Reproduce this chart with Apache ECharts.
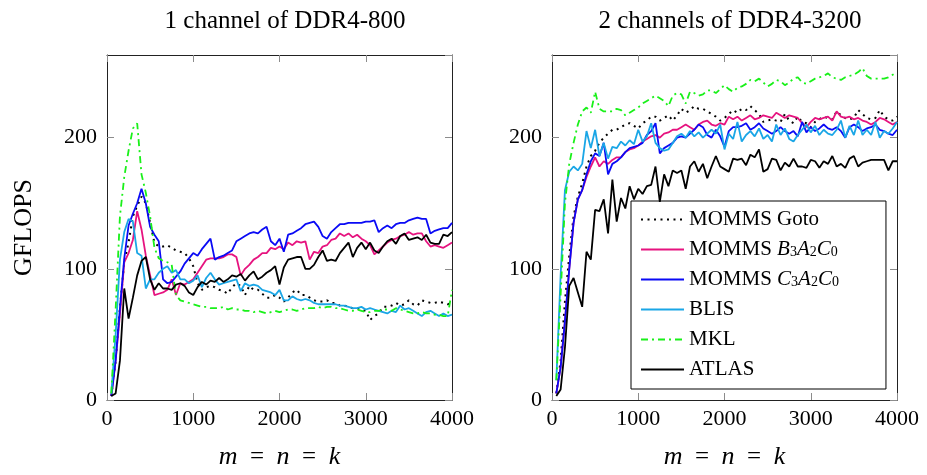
<!DOCTYPE html>
<html>
<head>
<meta charset="utf-8">
<script src="https://cdn.jsdelivr.net/npm/echarts@6/dist/echarts.min.js"></script>
<style>
  html, body { margin: 0; padding: 0; background: #fff; }
  #chart { width: 927px; height: 475px; }
</style>
</head>
<body>
<div id="chart"></div>
<script>
// problem sizes m = n = k
var sizes = [50,100,150,200,250,300,350,400,450,500,
  550,600,650,700,750,800,850,900,950,1000,
  1050,1100,1150,1200,1250,1300,1350,1400,1450,1500,
  1550,1600,1650,1700,1750,1800,1850,1900,1950,2000,
  2050,2100,2150,2200,2250,2300,2350,2400,2450,2500,
  2550,2600,2650,2700,2750,2800,2850,2900,2950,3000,
  3050,3100,3150,3200,3250,3300,3350,3400,3450,3500,
  3550,3600,3650,3700,3750,3800,3850,3900,3950,4000];

var panelTitles = ['1 channel of DDR4-800', '2 channels of DDR4-3200'];
var seriesNames = ['MOMMS Goto', 'MOMMS B3A2C0', 'MOMMS C3A2C0', 'BLIS', 'MKL', 'ATLAS'];
var yTicks = [0, 100, 200];
var xTicks = [0, 1000, 2000, 3000, 4000];

// ---- 1 channel of DDR4-800 ----
var ddr800Goto = [3,30,70,105,120,140,148,155,150,135,
  120,117,117,118,116,114,113,112,108,102,
  89,84,86,87,86,84,83,81,86,89,
  87,80,87,84,84,81,78,78,80,78,
  75,78,82,84,80,80,78,76,75,75,
  76,74,74,72,72,71,70,70,69,68,
  61,64,66,71,71,72,74,72,73,76,
  73,72,76,75,74,74,75,74,73,74];
var ddr800B3 = [3,30,65,105,112,122,144,130,110,95,
  80,81,82,84,92,80,89,88,90,92,
  97,102,107,108,108,108,109,111,111,109,
  95,100,103,107,109,112,112,116,115,117,
  115,120,118,121,120,121,107,113,112,117,
  118,122,123,127,125,127,124,126,123,121,
  118,111,114,117,120,122,123,125,126,128,
  126,127,127,121,117,118,117,116,118,120];
var ddr800C3 = [3,30,70,108,133,142,150,161,150,132,
  126,121,92,89,90,94,98,104,108,112,
  110,115,119,123,107,109,110,112,114,121,
  123,125,127,128,127,130,132,121,118,123,
  113,126,127,129,131,134,135,136,132,125,
  123,128,131,134,134,135,135,135,135,136,
  136,137,128,131,133,131,134,135,135,137,
  138,139,138,138,127,129,130,131,131,135];
var ddr800Blis = [5,50,107,128,138,136,112,110,85,92,
  92,97,100,102,97,99,92,92,89,91,
  95,86,93,97,92,88,89,90,91,92,
  83,89,87,88,87,84,83,82,80,84,
  76,76,79,77,76,77,76,74,73,73,
  73,73,73,72,72,71,70,70,71,69,
  70,69,68,67,66,68,67,72,69,70,
  68,66,64,67,68,66,64,66,64,65];
var ddr800Mkl = [5,69,140,170,190,207,211,172,158,140,
  116,108,106,105,103,80,76,75,74,73,
  72,71,71,70,70,70,71,69,70,69,
  69,68,68,67,68,67,66,67,68,67,
  68,69,69,68,69,70,70,70,71,70,
  71,71,70,70,69,68,68,69,68,67,
  67,68,68,69,69,68,70,69,68,67,
  66,66,67,66,66,65,65,64,64,84];
var ddr800Atlas = [3,5,30,85,62,78,95,106,109,92,
  84,89,85,85,84,88,89,87,82,80,
  86,90,88,91,90,93,90,92,95,94,
  96,91,95,98,92,94,97,99,102,88,
  101,107,108,109,109,100,100,103,109,114,
  106,107,106,112,116,120,109,116,120,115,
  120,114,112,117,121,123,119,125,127,122,
  123,124,122,126,120,119,119,126,125,128];

// ---- 2 channels of DDR4-3200 ----
var ddr3200Goto = [5,30,75,110,140,155,165,178,186,190,
  196,200,203,206,206,208,210,211,209,207,
  211,213,216,216,213,215,217,213,217,222,
  219,221,224,222,222,220,218,216,213,215,
  218,221,219,222,221,224,221,218,212,213,
  214,213,212,218,213,211,216,212,211,208,
  212,214,216,215,214,220,217,215,214,215,
  221,218,215,214,215,221,216,214,213,216];
var ddr3200B3 = [5,25,60,100,135,153,160,170,178,185,
  178,182,180,183,185,185,189,191,192,194,
  197,199,201,202,200,203,204,206,206,208,
  210,208,206,210,212,213,210,209,211,210,
  216,214,216,213,215,217,214,215,217,216,
  215,219,217,215,217,216,215,211,208,212,
  215,214,215,216,213,220,216,215,216,214,
  215,213,212,210,212,215,214,212,210,212];
var ddr3200C3 = [5,25,60,100,135,153,160,172,182,188,
  186,196,172,180,182,185,189,192,193,194,
  196,202,205,211,188,192,194,196,200,201,
  200,203,206,210,208,202,200,206,201,193,
  205,208,208,209,211,206,208,211,207,205,
  203,205,208,205,203,205,201,212,204,208,
  205,207,210,207,206,208,205,200,208,210,
  208,205,207,208,210,206,205,203,202,206];
var ddr3200Blis = [15,95,160,174,178,175,180,205,192,206,
  186,196,184,193,192,197,194,198,195,206,
  197,201,211,196,192,190,191,196,201,203,
  200,205,201,204,200,203,206,203,210,191,
  203,199,212,197,202,205,201,207,199,202,
  197,210,202,207,199,197,202,206,210,204,
  209,202,206,203,202,206,213,200,209,202,
  213,202,206,202,212,200,205,203,207,212];
var ddr3200Mkl = [15,80,150,180,196,210,220,223,219,235,
  222,220,220,220,222,221,217,219,221,223,
  226,228,230,232,230,228,224,232,234,233,
  226,235,234,232,233,236,236,234,237,240,
  237,235,238,239,241,244,243,245,242,239,
  241,244,243,240,242,245,246,242,241,243,
  245,246,247,249,246,245,244,246,247,248,
  250,253,247,245,245,245,245,246,248,250];
var ddr3200Atlas = [3,8,40,87,93,82,71,113,107,145,
  144,153,127,168,136,154,146,163,153,161,
  157,163,164,178,151,172,163,175,173,175,
  161,178,182,174,180,169,178,186,178,176,
  174,184,183,184,179,187,185,191,174,176,
  184,183,175,181,178,184,178,178,177,183,
  182,177,182,180,186,178,180,177,184,186,
  178,181,182,183,183,183,183,175,182,182];

var FONT = "'Liberation Serif', 'DejaVu Serif', serif";
var TICK_GRAY = '#8c8c8c';

var styles = [
  {color: '#000000', width: 2, type: [2, 4.5]},
  {color: '#e6137f', width: 1.8, type: 'solid'},
  {color: '#0a0af5', width: 1.8, type: 'solid'},
  {color: '#1aa6e6', width: 1.8, type: 'solid'},
  {color: '#19f019', width: 1.8, type: [7, 4, 2, 4]},
  {color: '#000000', width: 1.8, type: 'solid'}
];

var panels = [
  [ddr800Goto, ddr800B3, ddr800C3, ddr800Blis, ddr800Mkl, ddr800Atlas],
  [ddr3200Goto, ddr3200B3, ddr3200C3, ddr3200Blis, ddr3200Mkl, ddr3200Atlas]
];

var gridLefts = [107, 552];
var grids = [], xAxes = [], yAxes = [], series = [], titles = [];

function xAxisFor(gi, pos) {
  var main = pos === 'bottom';
  return {
    type: 'value', gridIndex: gi, position: pos,
    min: xTicks[0], max: xTicks[xTicks.length - 1], interval: 1000,
    axisLine: {show: true, onZero: false, lineStyle: {color: '#222', width: 1}},
    axisTick: {show: true, inside: true, length: 7, lineStyle: {color: TICK_GRAY, width: 1}},
    axisLabel: {show: main, fontFamily: FONT, fontSize: 22, color: '#000', margin: 8,
      formatter: function (v) { return String(v); }},
    splitLine: {show: false},
    name: main ? '{i|m}  =  {i|n}  =  {i|k}' : '',
    nameLocation: 'middle', nameGap: 44,
    nameTextStyle: {fontFamily: FONT, fontSize: 25, color: '#000',
      rich: {i: {fontFamily: FONT, fontSize: 26, fontStyle: 'italic', color: '#000'}}}
  };
}

function yAxisFor(gi, pos) {
  var main = pos === 'left';
  return {
    type: 'value', gridIndex: gi, position: pos,
    min: yTicks[0], max: 263, interval: 100,
    axisLine: {show: true, onZero: false, lineStyle: {color: '#222', width: 1}},
    axisTick: {show: true, inside: true, length: 7, lineStyle: {color: TICK_GRAY, width: 1}},
    axisLabel: {show: main, fontFamily: FONT, fontSize: 22, color: '#000', margin: 10, showMaxLabel: false},
    splitLine: {show: false},
    name: (main && gi === 0) ? 'GFLOPS' : '',
    nameLocation: 'middle', nameGap: 70, nameRotate: 90,
    nameTextStyle: {fontFamily: FONT, fontSize: 26, color: '#000'}
  };
}

for (var g = 0; g < 2; g++) {
  grids.push({left: gridLefts[g], top: 55, width: 345, height: 345});
  xAxes.push(xAxisFor(g, 'bottom'), xAxisFor(g, 'top'));
  yAxes.push(yAxisFor(g, 'left'), yAxisFor(g, 'right'));
  titles.push({
    text: panelTitles[g], left: gridLefts[g] + 173, top: 4, textAlign: 'center',
    textStyle: {fontFamily: FONT, fontSize: 25, fontWeight: 'normal', color: '#000'}
  });
  for (var s = 0; s < seriesNames.length; s++) {
    var vals = panels[g][s];
    series.push({
      name: seriesNames[s], type: 'line',
      xAxisIndex: g * 2, yAxisIndex: g * 2,
      data: sizes.map(function (x, i) { return [x, vals[i]]; }),
      symbol: 'none', showSymbol: false,
      color: styles[s].color,
      lineStyle: {color: styles[s].color, width: styles[s].width, type: styles[s].type},
      z: 2 + s
    });
  }
}

var legendLabels = {
  'MOMMS Goto': 'MOMMS Goto',
  'MOMMS B3A2C0': 'MOMMS {i|B}{s|3}{i|A}{s|2}{i|C}{s|0}',
  'MOMMS C3A2C0': 'MOMMS {i|C}{s|3}{i|A}{s|2}{i|C}{s|0}',
  'BLIS': 'BLIS', 'MKL': 'MKL', 'ATLAS': 'ATLAS'
};

var option = {
  animation: false,
  backgroundColor: '#fff',
  title: titles,
  grid: grids,
  xAxis: xAxes,
  yAxis: yAxes,
  legend: {
    data: seriesNames,
    orient: 'vertical',
    left: 631, top: 201,
    padding: [8, 47, 9, 9],
    itemWidth: 43, itemHeight: 14, itemGap: 9,
    itemStyle: {opacity: 0},
    borderColor: '#000', borderWidth: 1,
    backgroundColor: '#fff',
    selectedMode: false,
    formatter: function (name) { return legendLabels[name]; },
    textStyle: {
      fontFamily: FONT, fontSize: 21, lineHeight: 20, color: '#000',
      rich: {
        i: {fontFamily: FONT, fontSize: 21, fontStyle: 'italic', color: '#000', lineHeight: 20},
        s: {fontFamily: FONT, fontSize: 14, color: '#000', lineHeight: 12, verticalAlign: 'bottom'}
      }
    }
  },
  series: series
};

var chart = echarts.init(document.getElementById('chart'));
chart.setOption(option);
</script>
</body>
</html>
